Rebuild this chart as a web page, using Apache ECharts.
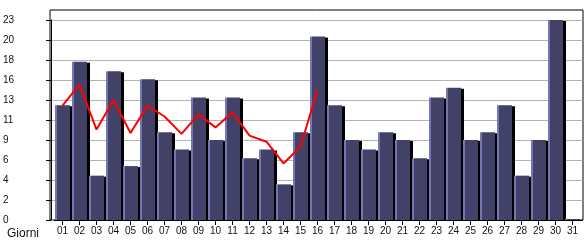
<!DOCTYPE html>
<html><head><meta charset="utf-8">
<script src="https://cdn.jsdelivr.net/npm/echarts@6/dist/echarts.min.js"></script>
<style>html,body{margin:0;padding:0;background:#fff}#c{width:585px;height:240px}</style>
</head><body><div id="c"></div>
<script>
const days = ['01','02','03','04','05','06','07','08','09','10','11','12','13','14','15','16','17','18','19','20','21','22','23','24','25','26','27','28','29','30','31'];
const barValues = [13.2,18.2,5.1,17.1,6.2,16.2,10.1,8.1,14.1,9.2,14.1,7.1,8.1,4.1,10.1,21.1,13.2,9.2,8.1,10.1,9.2,7.1,14.1,15.2,9.2,10.1,13.2,5.1,9.2,23,0.12];
const lineValues = [13.15,15.6,10.4,13.8,10.0,13.15,11.9,9.9,12.15,10.65,12.4,9.7,9.0,6.5,8.45,14.95,null,null,null,null,null,null,null,null,null,null,null,null,null,null,null];
const yMax = 23;
const yStep = 2.3;

const chart = echarts.init(document.getElementById('c'), null, {renderer:'canvas'});
const font = 'Liberation Sans, Arial, sans-serif';
chart.setOption({
  backgroundColor:'#fff',
  animation:false,
  title:{text:'Giorni', left:2, top:223, textStyle:{fontFamily:font, fontSize:12, fontWeight:'normal', color:'#111'}},
  grid:[
    {left:50, right:2, top:20, bottom:20, show:false},
    {left:54, width:527, top:20, bottom:20, show:false},
    {left:50, right:2, top:10, bottom:20, show:true, borderColor:'#000', borderWidth:1, backgroundColor:'transparent'}
  ],
  xAxis:[
    {gridIndex:0, type:'value', show:false},
    {gridIndex:1, type:'category', data:days, boundaryGap:true,
     axisLine:{show:true, lineStyle:{color:'#000', width:1}},
     axisTick:{show:true, alignWithLabel:true, length:5, lineStyle:{color:'#000'}},
     axisLabel:{margin:6, fontFamily:font, fontSize:10, color:'#111', interval:0},
     splitLine:{show:false}},
    {gridIndex:2, type:'value', show:false}
  ],
  yAxis:[
    {gridIndex:0, type:'value', min:0, max:yMax, interval:yStep,
     axisLine:{show:true, lineStyle:{color:'#000'}},
     axisTick:{show:true, length:5, lineStyle:{color:'#000'}},
     axisLabel:{margin:48, align:'left', fontFamily:font, fontSize:10, color:'#111',
       formatter:v=>String(Math.floor(v+1e-9))},
     splitLine:{show:true, lineStyle:{color:'#b4b4b4', width:1}}},
    {gridIndex:1, type:'value', min:0, max:yMax, show:false, splitLine:{show:false}},
    {gridIndex:2, type:'value', show:false, splitLine:{show:false}}
  ],
  series:[
    {type:'bar', xAxisIndex:1, yAxisIndex:1, data:barValues, barWidth:15,
     itemStyle:{
       color:new echarts.graphic.LinearGradient(0,0,1,0,[
         {offset:0,color:'#7676b4'},{offset:0.13,color:'#7676b4'},
         {offset:0.14,color:'#424269'},{offset:1,color:'#424269'}]),
       shadowColor:'#000', shadowBlur:0, shadowOffsetX:3, shadowOffsetY:1
     }},
    {type:'line', xAxisIndex:1, yAxisIndex:1, data:lineValues, showSymbol:false, symbol:'none',
     lineStyle:{color:'#ff0000', width:2}, z:5}
  ]
});
</script></body></html>
